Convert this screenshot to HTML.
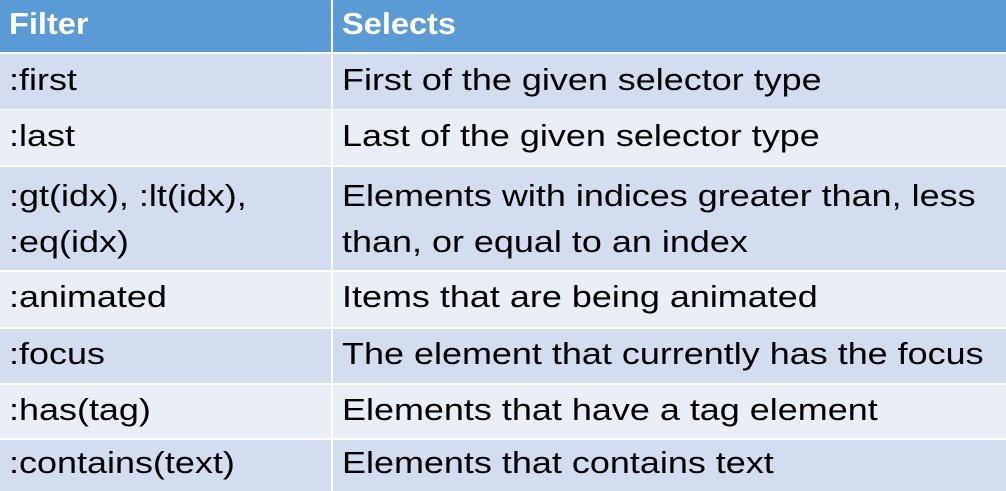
<!DOCTYPE html>
<html><head><style>
body{margin:0;width:1006px;height:491px;overflow:hidden;background:#fff;font-family:"Liberation Sans",sans-serif;}
.r{position:absolute;left:0;width:1006px;}
.c{position:absolute;top:0;bottom:0;box-sizing:border-box;font-size:31px;color:#000;}
.a{left:0;width:331px}
.b{left:333px;width:673px}
.t{position:absolute;left:9px;white-space:nowrap;transform:scaleX(1.16);transform-origin:0 0;}
</style></head><body>
<div class="r" style="top:0;height:52px;">
 <div class="c a" style="background:#5B9BD5"><span class="t" style="top:6px;color:#fff;font-weight:bold;transform:scaleX(1.05)">Filter</span></div>
 <div class="c b" style="background:#5B9BD5"><span class="t" style="top:6px;color:#fff;font-weight:bold;transform:scaleX(1.05)">Selects</span></div>
</div>
<div class="r" style="top:54px;height:55px;">
 <div class="c a" style="background:#D2DEEF"><span class="t" style="top:8px">:first</span></div>
 <div class="c b" style="background:#D2DEEF"><span class="t" style="top:8px">First of the given selector type</span></div>
</div>
<div class="r" style="top:110px;height:55px;">
 <div class="c a" style="background:#EAEFF7"><span class="t" style="top:8px">:last</span></div>
 <div class="c b" style="background:#EAEFF7"><span class="t" style="top:8px">Last of the given selector type</span></div>
</div>
<div class="r" style="top:167px;height:103px;">
 <div class="c a" style="background:#D2DEEF"><span class="t" style="top:6px;line-height:46px">:gt(idx), :lt(idx),<br>:eq(idx)</span></div>
 <div class="c b" style="background:#D2DEEF"><span class="t" style="top:6px;line-height:46px">Elements with indices greater than, less<br>than, or equal to an index</span></div>
</div>
<div class="r" style="top:272px;height:55px;">
 <div class="c a" style="background:#EAEFF7"><span class="t" style="top:7px">:animated</span></div>
 <div class="c b" style="background:#EAEFF7"><span class="t" style="top:7px">Items that are being animated</span></div>
</div>
<div class="r" style="top:329px;height:54px;">
 <div class="c a" style="background:#D2DEEF"><span class="t" style="top:7px">:focus</span></div>
 <div class="c b" style="background:#D2DEEF"><span class="t" style="top:7px">The element that currently has the focus</span></div>
</div>
<div class="r" style="top:385px;height:53px;">
 <div class="c a" style="background:#EAEFF7"><span class="t" style="top:7px">:has(tag)</span></div>
 <div class="c b" style="background:#EAEFF7"><span class="t" style="top:7px">Elements that have a tag element</span></div>
</div>
<div class="r" style="top:440px;height:51px;">
 <div class="c a" style="background:#D2DEEF"><span class="t" style="top:5px">:contains(text)</span></div>
 <div class="c b" style="background:#D2DEEF"><span class="t" style="top:5px">Elements that contains text</span></div>
</div>
</body></html>
